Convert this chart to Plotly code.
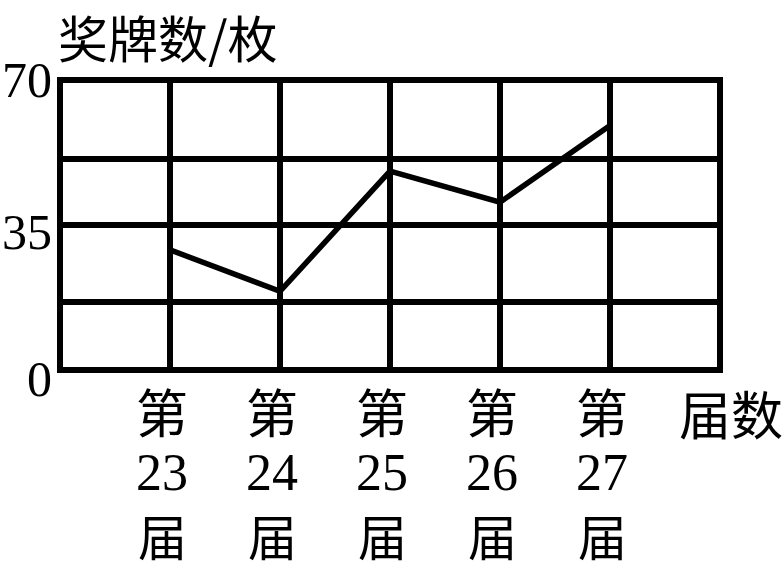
import plotly.graph_objects as go

# ---- data ----
editions = ["23", "24", "25", "26", "27"]
medals = [29, 19, 48, 40.5, 59]
y_labels = [0, 35, 70]
y_grid = [16.4, 35, 51]
y_title = "奖牌数/枚"
x_title = "届数"
prefix = "第"
suffix = "届"

CJK = "Noto Sans CJK SC"
SERIF = "Liberation Serif"

x_pos = list(range(1, len(editions) + 1))
x_max = len(editions) + 1

fig = go.Figure()
fig.add_trace(go.Scatter(
    x=x_pos, y=medals, mode="lines",
    line=dict(color="black", width=5.5),
    hoverinfo="skip", showlegend=False,
))

fig.update_layout(
    width=783, height=570,
    margin=dict(l=60, r=63, t=80, b=200),
    plot_bgcolor="white", paper_bgcolor="white",
    xaxis=dict(range=[0, x_max], tickvals=list(range(0, x_max + 1)),
               showgrid=True, gridcolor="black", gridwidth=6,
               showticklabels=False, zeroline=False, showline=False, ticks=""),
    yaxis=dict(range=[0, 70], tickvals=y_grid,
               showgrid=True, gridcolor="black", gridwidth=6,
               showticklabels=False, zeroline=False, showline=False, ticks=""),
)

# outer frame (paper refs so the thick border is not clipped)
fig.add_shape(type="rect", xref="paper", yref="paper", x0=0, x1=1, y0=0, y1=1,
              line=dict(color="black", width=6), fillcolor="rgba(0,0,0,0)")

ann = []
row_shift = {"prefix": -40, "num": -102, "suffix": -164.5}
for xp, ed in zip(x_pos, editions):
    ann.append(dict(x=xp, xref="x", y=0, yref="paper", text=prefix, showarrow=False,
                    xanchor="center", yanchor="middle", xshift=-8, yshift=row_shift["prefix"],
                    font=dict(family=CJK, size=52, color="black")))
    ann.append(dict(x=xp, xref="x", y=0, yref="paper", text=ed, showarrow=False,
                    xanchor="center", yanchor="middle", xshift=-8, yshift=row_shift["num"],
                    font=dict(family=SERIF, size=52, color="black")))
    ann.append(dict(x=xp, xref="x", y=0, yref="paper", text=suffix, showarrow=False,
                    xanchor="center", yanchor="middle", xshift=-8, yshift=row_shift["suffix"],
                    font=dict(family=CJK, size=49, color="black")))

ann.append(dict(x=x_max, xref="x", y=0, yref="paper", text=x_title, showarrow=False,
                xanchor="center", yanchor="middle", xshift=11, yshift=-42,
                font=dict(family=CJK, size=52, color="black")))

label_shift = {0: -9, 35: -7, 70: 0}
for v in y_labels:
    ann.append(dict(x=0, xref="paper", y=v, yref="y", text=str(v), showarrow=False,
                    xanchor="right", yanchor="middle", xshift=-6, yshift=label_shift[v],
                    font=dict(family=SERIF, size=50, color="black")))

ann.append(dict(x=0, xref="paper", y=1, yref="paper", text=y_title, showarrow=False,
                xanchor="left", yanchor="middle", xshift=-4, yshift=44,
                font=dict(family=CJK, size=50, color="black")))

fig.update_layout(annotations=ann)
fig.write_html("out.html")
